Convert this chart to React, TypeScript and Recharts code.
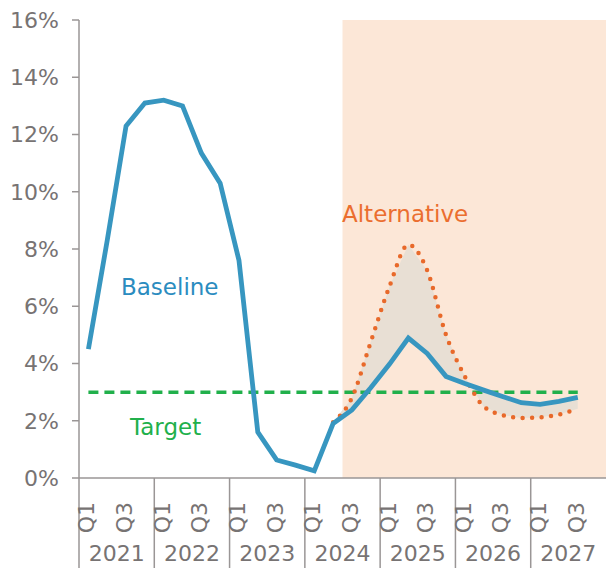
import {
  ComposedChart,
  Line,
  Area,
  XAxis,
  YAxis,
  ReferenceArea,
} from "recharts";

const years = ["2021", "2022", "2023", "2024", "2025", "2026", "2027"];
const quarters = ["Q1", "Q2", "Q3", "Q4"];

const baseline = [
  4.5, 8.3, 12.3, 13.1, 13.2, 13.0, 11.35, 10.3, 7.6, 1.6, 0.63, 0.45, 0.25, 1.9,
  2.38, 3.15, 3.98, 4.89, 4.35, 3.55, 3.3, 3.07, 2.85, 2.63, 2.57, 2.68, 2.82, null,
];
const alternative = [
  null, null, null, null, null, null, null, null, null, null, null, null, null, 1.95,
  2.8, 4.75, 6.7, 8.15, 7.25, 5.0, 3.55, 2.5, 2.2, 2.1, 2.12, 2.22, 2.42, null,
];
const target = [
  3, 3, 3, 3, 3, 3, 3, 3, 3, 3, 3, 3, 3, 3,
  3, 3, 3, 3, 3, 3, 3, 3, 3, 3, 3, 3, 3, null,
];
const yTicks = [0, 2, 4, 6, 8, 10, 12, 14, 16];

const data = baseline.map((b, i) => ({
  i,
  baseline: b,
  alternative: alternative[i],
  target: target[i],
  band: alternative[i] != null && b != null ? [alternative[i], b] : null,
}));

const W = 606;
const H = 568;
const LEFT = 79;
const TOP = 20;
const BOTTOM = 478;
const BW = (W - LEFT) / data.length;
const FONT = "'DejaVu Sans', sans-serif";
const GREY = "#777373";
const AXIS = "#9a9696";

function QuarterTick({ x, payload }: any) {
  const i = payload.value;
  const q = i % 4;
  return (
    <g>
      {q === 0 && (
        <line x1={x - BW / 2} x2={x - BW / 2} y1={BOTTOM} y2={H} stroke={AXIS} strokeWidth={1.5} />
      )}
      {(q === 0 || q === 2) && (
        <text
          x={x + 6}
          y={502}
          transform={`rotate(-90 ${x + 6} 502)`}
          textAnchor="end"
          fill={GREY}
          fontSize={22}
          fontFamily={FONT}
        >
          {quarters[q]}
        </text>
      )}
      {q === 2 && (
        <text x={x - BW / 2} y={561} textAnchor="middle" fill={GREY} fontSize={22} fontFamily={FONT}>
          {years[Math.floor(i / 4)]}
        </text>
      )}
    </g>
  );
}

export default function App() {
  return (
    <div style={{ position: "absolute", left: 0, top: 0, width: W, height: H, overflow: "hidden", background: "#fff" }}>
      <ComposedChart width={W} height={H} data={data} margin={{ top: TOP, right: 0, left: 0, bottom: 0 }}>
        <ReferenceArea x1={13.5} x2={27.5} y1={0} y2={16} fill="#fce7d7" fillOpacity={1} stroke="none" />
        <XAxis
          type="number"
          dataKey="i"
          domain={[-0.5, 27.5]}
          ticks={data.map((d) => d.i)}
          interval={0}
          tickLine={false}
          tick={<QuarterTick />}
          height={H - BOTTOM}
          stroke={AXIS}
          strokeWidth={1.5}
          allowDataOverflow
        />
        <YAxis
          domain={[0, 16]}
          ticks={yTicks}
          width={LEFT}
          tickSize={7}
          tickMargin={13}
          tickFormatter={(v) => `${v}%`}
          tick={{ fill: GREY, fontSize: 22, fontFamily: FONT }}
          stroke={AXIS}
          strokeWidth={1.5}
        />
        <Area
          dataKey="band"
          type="linear"
          fill="#e8dfd4"
          fillOpacity={1}
          stroke="none"
          isAnimationActive={false}
        />
        <Line
          dataKey="target"
          stroke="#21b04b"
          strokeWidth={3.5}
          strokeDasharray="10 6"
          dot={false}
          isAnimationActive={false}
        />
        <Line
          dataKey="alternative"
          type="monotone"
          stroke="#e8692a"
          strokeWidth={4.5}
          strokeDasharray="0 9.5"
          strokeLinecap="round"
          dot={false}
          isAnimationActive={false}
        />
        <Line
          dataKey="baseline"
          type="linear"
          stroke="#3796c0"
          strokeWidth={4.8}
          dot={false}
          isAnimationActive={false}
        />
      </ComposedChart>
      <svg width={W} height={H} style={{ position: "absolute", left: 0, top: 0, pointerEvents: "none" }}>
        <text x={121} y={295} fill="#2b8cbf" fontSize={23} fontFamily={FONT}>Baseline</text>
        <text x={342} y={222} fill="#eb6e2f" fontSize={23} fontFamily={FONT}>Alternative</text>
        <text x={130} y={435} fill="#21b04b" fontSize={23} fontFamily={FONT}>Target</text>
      </svg>
    </div>
  );
}
